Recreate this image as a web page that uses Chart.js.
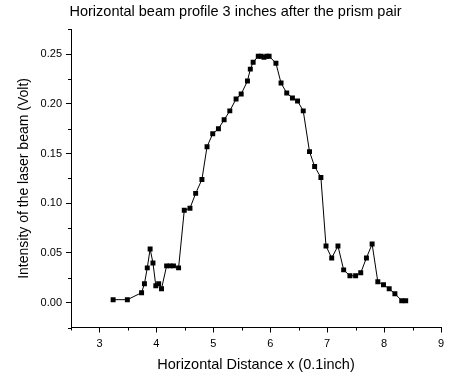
<!DOCTYPE html>
<html>
<head>
<meta charset="utf-8">
<script src="https://cdn.jsdelivr.net/npm/chart.js@4"></script>
<style>
  html, body { margin: 0; padding: 0; background: #fff; }
  #wrap { width: 465px; height: 386px; }
</style>
</head>
<body>
<div id="wrap"><canvas id="beamChart" width="465" height="386"></canvas></div>
<script>
// horizontal beam profile
const distX = [
  3.24, 3.49, 3.74, 3.79, 3.84, 3.89, 3.94, 3.99, 4.04, 4.09,
  4.18, 4.24, 4.30, 4.39, 4.49, 4.59, 4.69, 4.80, 4.89, 4.99,
  5.09, 5.19, 5.29, 5.40, 5.49, 5.60, 5.65, 5.70, 5.79, 5.84,
  5.89, 5.94, 5.98, 6.10, 6.19, 6.29, 6.39, 6.48, 6.58, 6.69,
  6.78, 6.89, 6.98, 7.08, 7.19, 7.29, 7.40, 7.50, 7.59, 7.69,
  7.79, 7.89, 7.99, 8.09, 8.19, 8.31, 8.38
];
const intensity = [
  0.003, 0.003, 0.010, 0.019, 0.035, 0.054, 0.040, 0.017, 0.019, 0.014,
  0.037, 0.037, 0.037, 0.035, 0.093, 0.095, 0.110, 0.124, 0.157, 0.170,
  0.175, 0.184, 0.193, 0.205, 0.210, 0.223, 0.235, 0.242, 0.248, 0.248,
  0.247, 0.248, 0.248, 0.241, 0.221, 0.211, 0.206, 0.203, 0.193, 0.152,
  0.137, 0.126, 0.057, 0.045, 0.057, 0.033, 0.027, 0.027, 0.030, 0.045,
  0.059, 0.021, 0.018, 0.014, 0.009, 0.002, 0.002
];

const FONT = '"Liberation Sans", Arial, sans-serif';
const isMajorX = v => Math.abs(v - Math.round(v)) < 1e-6;
const isMajorY = v => Math.abs(v / 0.05 - Math.round(v / 0.05)) < 1e-6;

// short ticks for the minor steps
const minorTicks = {
  id: 'minorTicks',
  afterDraw(chart) {
    const { ctx, scales: { x, y } } = chart;
    ctx.save();
    ctx.strokeStyle = '#000';
    ctx.lineWidth = 1;
    ctx.beginPath();
    x.ticks.forEach(t => {
      if (isMajorX(t.value)) return;
      const px = Math.round(x.getPixelForValue(t.value)) + 0.5;
      ctx.moveTo(px, x.top);
      ctx.lineTo(px, x.top + 3);
    });
    y.ticks.forEach(t => {
      if (isMajorY(t.value)) return;
      const py = Math.round(y.getPixelForValue(t.value)) + 0.5;
      ctx.moveTo(y.right, py);
      ctx.lineTo(y.right - 3, py);
    });
    ctx.stroke();
    ctx.restore();
  }
};

new Chart(document.getElementById('beamChart'), {
  type: 'scatter',
  data: {
    datasets: [{
      data: distX.map((x, i) => ({ x, y: intensity[i] })),
      showLine: true,
      borderColor: '#000',
      borderWidth: 1,
      tension: 0,
      pointStyle: 'rect',
      pointRadius: 3.5,
      pointBorderWidth: 0,
      pointBackgroundColor: '#000',
    }]
  },
  options: {
    responsive: false,
    animation: false,
    layout: { padding: { left: 6, right: 0, top: 0, bottom: 0 } },
    plugins: {
      legend: { display: false },
      tooltip: { enabled: false },
      title: {
        display: true,
        text: 'Horizontal beam profile 3 inches after the prism pair',
        color: '#000',
        font: { family: FONT, size: 14.5, weight: 'normal' },
        padding: { top: 3, bottom: 9 },
      },
    },
    scales: {
      x: {
        type: 'linear',
        min: 2.5, max: 9,
        ticks: {
          stepSize: 0.5,
          color: '#000',
          font: { family: FONT, size: 11 },
          padding: 5,
          maxRotation: 0,
          autoSkip: false,
          callback: v => isMajorX(v) ? String(Math.round(v)) : '',
        },
        grid: {
          drawOnChartArea: false,
          tickLength: 5,
          color: ctx => (ctx.tick && isMajorX(ctx.tick.value)) ? '#000' : 'rgba(0,0,0,0)',
        },
        border: { display: true, color: '#000', width: 1 },
        title: {
          display: true,
          text: 'Horizontal Distance x (0.1inch)',
          color: '#000',
          font: { family: FONT, size: 14.5 },
          padding: { top: 0, bottom: 12 },
        },
        afterFit: s => { s.height = 58.5; },
      },
      y: {
        type: 'linear',
        min: -0.025, max: 0.275,
        ticks: {
          stepSize: 0.025,
          color: '#000',
          font: { family: FONT, size: 11 },
          padding: 4,
          autoSkip: false,
          callback: v => isMajorY(v) ? v.toFixed(2) : '',
        },
        grid: {
          drawOnChartArea: false,
          tickLength: 5,
          color: ctx => (ctx.tick && isMajorY(ctx.tick.value)) ? '#000' : 'rgba(0,0,0,0)',
        },
        border: { display: true, color: '#000', width: 1 },
        title: {
          display: true,
          text: 'Intensity of the laser beam (Volt)',
          color: '#000',
          font: { family: FONT, size: 14 },
          padding: { top: 10, bottom: 0 },
        },
        afterFit: s => { s.width = 65; },
      },
      // empty right margin, keeps the plot edge at 9 where the original has it
      yGap: {
        type: 'linear',
        position: 'right',
        display: true,
        ticks: { display: false },
        grid: { display: false },
        border: { display: false },
        afterFit: s => { s.width = 24; },
      }
    }
  },
  plugins: [minorTicks]
});
</script>
</body>
</html>
